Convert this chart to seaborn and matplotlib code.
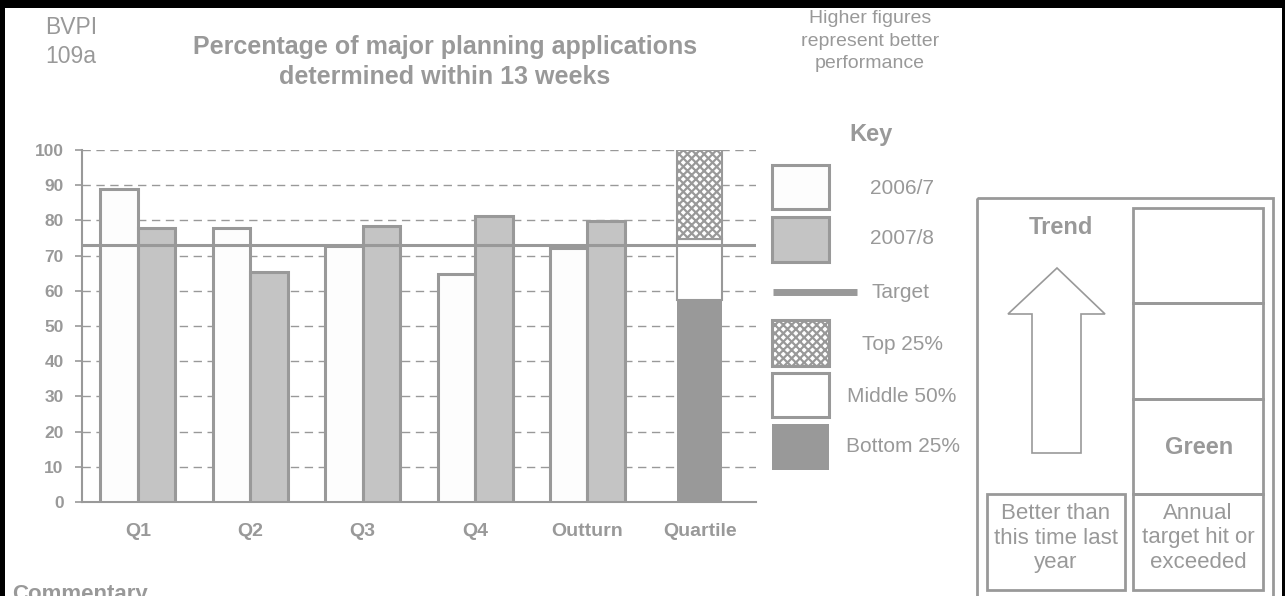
import matplotlib
matplotlib.use("Agg")
import matplotlib.pyplot as plt
from matplotlib.patches import Rectangle, Polygon
from matplotlib.lines import Line2D
import seaborn as sns
import pandas as pd

# ---- data ----
categories = ["Q1", "Q2", "Q3", "Q4", "Outturn", "Quartile"]
years = ["2006/7", "2007/8"]
values_2006 = [88.9, 77.8, 72.6, 64.7, 72.3]
values_2007 = [77.8, 65.3, 78.5, 81.3, 79.8]
target_value = 73.0
quartile_bottom = 57.4   # bottom 25% upper bound
quartile_middle = 74.6   # middle 50% upper bound
quartile_top = 100.0     # top 25% upper bound
y_ticks = list(range(0, 101, 10))

GREY = "#999999"
TXT = "#999999"

sns.set_style("white")
plt.rcParams["font.family"] = ["Liberation Sans", "DejaVu Sans"]
plt.rcParams["hatch.linewidth"] = 1.6

fig = plt.figure(figsize=(12.85, 5.96), dpi=100)
W, H = 1285, 596
ax = fig.add_axes([81.7 / W, (H - 502) / H, (756 - 81.7) / W, 352 / H])

df = pd.DataFrame({
    "period": categories[:5] * 2,
    "year": [years[0]] * 5 + [years[1]] * 5,
    "value": values_2006 + values_2007,
})
sns.barplot(data=df, x="period", y="value", hue="year", order=categories,
            hue_order=years, palette=["#fdfdfd", "#c4c4c4"], saturation=1,
            edgecolor=GREY, linewidth=2.2, width=0.667, errorbar=None,
            legend=False, ax=ax, zorder=3)

qx = categories.index("Quartile")
ax.bar(qx, quartile_bottom, width=0.4, color=GREY, edgecolor=GREY, linewidth=0, zorder=3)
ax.bar(qx, quartile_middle - quartile_bottom, bottom=quartile_bottom, width=0.4,
       color="white", edgecolor=GREY, linewidth=1.5, zorder=3)
ax.bar(qx, quartile_top - quartile_middle, bottom=quartile_middle, width=0.4,
       color="white", edgecolor=GREY, hatch="xxxx", linewidth=1.5, zorder=3)

ax.axhline(target_value, color=GREY, linewidth=2.2, zorder=4)

ax.set_xlim(-0.5, len(categories) - 0.5)
ax.set_ylim(0, 100)
ax.set_yticks(y_ticks)
ax.set_xlabel("")
ax.set_ylabel("")
ax.set_axisbelow(True)
ax.yaxis.grid(True, color=GREY, linestyle=(0, (6, 4)), linewidth=1.0)
ax.xaxis.grid(False)
for s in ["top", "right"]:
    ax.spines[s].set_visible(False)
for s in ["left", "bottom"]:
    ax.spines[s].set_color(GREY)
    ax.spines[s].set_linewidth(1.5)
ax.set_xticks([i + 0.5 for i in range(-1, len(categories))], minor=True)
ax.tick_params(axis="x", which="major", length=0, pad=15, labelsize=14, labelcolor=TXT)
ax.tick_params(axis="x", which="minor", length=5, width=1.2, color=GREY, direction="out")
ax.tick_params(axis="y", length=5, width=1.2, color=GREY, direction="out", pad=8,
               labelsize=12.5, labelcolor=TXT, left=True)
for lab in ax.get_xticklabels() + ax.get_yticklabels():
    lab.set_fontweight("bold")

# ---- overlay in pixel coordinates ----
ov = fig.add_axes([0, 0, 1, 1], zorder=10)
ov.set_xlim(0, W)
ov.set_ylim(H, 0)
ov.axis("off")
ov.patch.set_alpha(0)

# black frame
ov.add_patch(Rectangle((0, 0), W, 8, color="black", lw=0))
ov.add_patch(Rectangle((0, 0), 5, H, color="black", lw=0))
ov.add_patch(Rectangle((W - 3, 0), 3, H, color="black", lw=0))

ov.text(71, 42, "BVPI\n109a", ha="center", va="center", fontsize=16.5, color=TXT, linespacing=1.3)
ov.text(445, 62, "Percentage of major planning applications\ndetermined within 13 weeks",
        ha="center", va="center", fontsize=18, fontweight="bold", color=TXT, linespacing=1.35)
ov.text(870, 41, "Higher figures\nrepresent better\nperformance", ha="center", va="center",
        fontsize=14, color=TXT, linespacing=1.45)
ov.text(12, 584, "Commentary", ha="left", va="top", fontsize=16, fontweight="bold", color=TXT)

# key
ov.text(871, 134, "Key", ha="center", va="center", fontsize=17, fontweight="bold", color=TXT)
klw = 2.2
ov.add_patch(Rectangle((772, 165), 57, 44, facecolor="#fdfdfd", edgecolor=GREY, lw=klw))
ov.add_patch(Rectangle((772, 217), 57, 45, facecolor="#c4c4c4", edgecolor=GREY, lw=klw))
ov.add_line(Line2D([773, 857], [292, 292], color=GREY, lw=5, solid_capstyle="butt"))
ov.add_patch(Rectangle((772, 320), 57, 46, facecolor="white", edgecolor=GREY, lw=klw, hatch="xxxx"))
ov.add_patch(Rectangle((772, 373), 57, 44, facecolor="white", edgecolor=GREY, lw=klw))
ov.add_patch(Rectangle((772, 424), 57, 46, facecolor=GREY, edgecolor=GREY, lw=0))
key_fs = 15
ov.text(902, 188, years[0], ha="center", va="center", fontsize=key_fs, color=TXT)
ov.text(902, 239, years[1], ha="center", va="center", fontsize=key_fs, color=TXT)
ov.text(900, 292, "Target", ha="center", va="center", fontsize=key_fs, color=TXT)
ov.text(903, 344, "Top 25%", ha="center", va="center", fontsize=key_fs, color=TXT)
ov.text(902, 396, "Middle 50%", ha="center", va="center", fontsize=key_fs, color=TXT)
ov.text(903, 447, "Bottom 25%", ha="center", va="center", fontsize=key_fs, color=TXT)

# right panel
plw = 2.0
ov.add_patch(Rectangle((977, 198), 296, 410, facecolor="none", edgecolor=GREY, lw=plw, clip_on=False))
for y0, y1 in [(208, 303), (303, 399), (399, 494), (494, 590)]:
    ov.add_patch(Rectangle((1133, y0), 130, y1 - y0, facecolor="none", edgecolor=GREY, lw=plw))
ov.add_patch(Rectangle((987, 494), 138, 96, facecolor="none", edgecolor=GREY, lw=plw))
ov.text(1061, 227, "Trend", ha="center", va="center", fontsize=17, fontweight="bold", color=TXT)
ov.text(1199, 447, "Green", ha="center", va="center", fontsize=17, fontweight="bold", color=TXT)
ov.text(1056, 538, "Better than\nthis time last\nyear", ha="center", va="center",
        fontsize=16, color=TXT, linespacing=1.2)
ov.text(1198, 538, "Annual\ntarget hit or\nexceeded", ha="center", va="center",
        fontsize=16, color=TXT, linespacing=1.2)
arrow = [(1057, 268), (1105, 314), (1081, 314), (1081, 453), (1032, 453), (1032, 314), (1008, 314)]
ov.add_patch(Polygon(arrow, closed=True, facecolor="white", edgecolor=GREY, lw=1.2))

fig.savefig("out.png", dpi=100)
